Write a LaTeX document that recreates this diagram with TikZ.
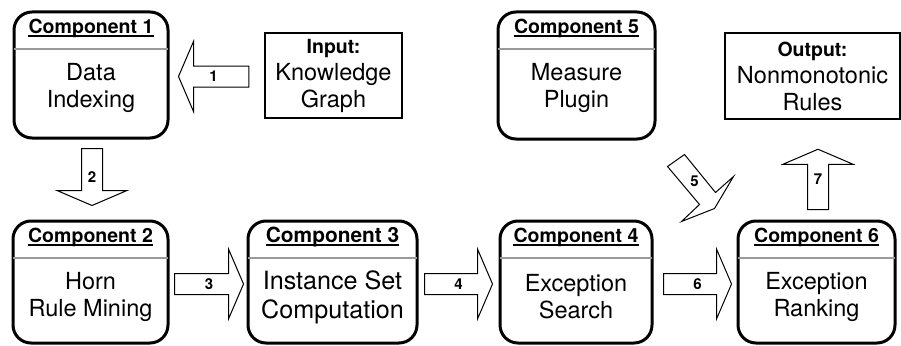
\documentclass[tikz,border=0pt]{standalone}
\usepackage{fontspec}
\setmainfont{TeX Gyre Heros}
\usetikzlibrary{calc}

\tikzset{
  compbox/.style={draw, line width=3pt, rounded corners=18pt, inner sep=0pt},
  iobox/.style={draw, line width=2.5pt, inner sep=0pt},
  sepline/.style={draw=black!40, line width=1.5pt},
  headtext/.style={font=\fontsize{19.5}{27}\selectfont\bfseries, inner sep=0pt, anchor=base},
  bodytext/.style={font=\fontsize{23.5}{27}\selectfont, align=center, inner sep=0pt},
  arrowbox/.style={draw, line width=1pt, line join=miter, fill=white},
  arrownum/.style={font=\fontsize{15}{15}\selectfont\bfseries, inner sep=0pt},
}

% rounded component box: [text scale] name, centre, width, height, number, body
\newcommand\component[7][1]{%
  \node[compbox, minimum width=#4, minimum height=#5] (#2) at #3 {};
  \draw[sepline] ($(#2.north west)+(1.5,38.5)$) -- ($(#2.north east)+(-1.5,38.5)$);
  \node[headtext, scale=#1] (#2-head) at ($(#2.north)+(0,23)$) {Component #6};
  \draw[line width=1.5pt] ($(#2-head.base west)+(0,2.3)$) -- ($(#2-head.base east)+(0,2.3)$);
  \node[bodytext, scale=#1] (#2-body) at ($(#2.north)+(0,77.5)$) {#7};
}

% outlined block arrow: name, from, to, label
\newcommand\blockarrow[4]{%
  \coordinate (#1-s) at #2;
  \coordinate (#1-t) at #3;
  \coordinate (#1-h) at ($(#1-t)!15pt!(#1-s)$);
  \draw[arrowbox] ($(#1-s)!10.5pt!90:(#1-t)$) -- ($(#1-h)!10.5pt!90:(#1-t)$)
    -- ($(#1-h)!35pt!90:(#1-t)$) -- (#1-t) -- ($(#1-h)!35pt!-90:(#1-t)$)
    -- ($(#1-h)!10.5pt!-90:(#1-t)$) -- ($(#1-s)!10.5pt!-90:(#1-t)$) -- cycle;
  \node[arrownum] (#1) at ($(#1-s)!.5!(#1-t)$) {#4};
}

\begin{document}
\begin{tikzpicture}[x=1pt, y=-1pt]
\useasboundingbox (0,0) rectangle (901,345);

% top row
\component{c1}{(91,75)}{154pt}{126pt}{1}{Data\\Indexing}
\component{c5}{(576.5,75.5)}{157pt}{127pt}{5}{Measure\\Plugin}
\node[iobox, minimum width=137pt, minimum height=85pt] (in) at (333.5,75.5) {};
\node[bodytext] (in-text) at (in) {\textbf{\fontsize{19.5}{27}\selectfont Input:}\\Knowledge\\Graph};
\node[iobox, minimum width=175pt, minimum height=86pt] (out) at (812.5,76) {};
\node[bodytext] (out-text) at (out) {\textbf{\fontsize{19.5}{27}\selectfont Output:}\\Nonmonotonic\\Rules};

% bottom row
\component{c2}{(90.5,282)}{155pt}{122pt}{2}{Horn\\Rule Mining}
\component[1.07]{c3}{(332.5,282)}{169pt}{122pt}{3}{Instance Set\\Computation}
\component{c4}{(576,282)}{152pt}{122pt}{4}{Exception\\Search}
\component{c6}{(816.5,282)}{157pt}{122pt}{6}{Exception\\Ranking}

% flow between the components
\blockarrow{a1}{($(in.west)+(-15,1)$)}{($(in.west -| c1.east)+(9,1)$)}{1}
\blockarrow{a2}{($(c1.south)+(1,9)$)}{($(c1.south |- c2.north)+(1,-14)$)}{2}
\blockarrow{a3}{($(c2.east)+(5,2)$)}{($(c2.east -| c3.west)+(-3,2)$)}{3}
\blockarrow{a4}{($(c3.east)+(6,2)$)}{($(c3.east -| c4.west)+(-6,2)$)}{4}
\blockarrow{a6}{($(c4.east)+(10,2)$)}{($(c4.east -| c6.west)+(-5,2)$)}{6}
\blockarrow{a7}{($(c6.north)+(1.5,-10)$)}{($(c6.north |- out.south)+(1.5,29)$)}{7}

% skewed arrow from the measure plugin
\begin{scope}[shift={(c5.south east)}]
  \draw[arrowbox] (11,26) -- (28,14) -- (59,52) -- (77,36) -- (58,68) -- (25,81) -- (43,64) -- cycle;
  \node[arrownum] (a5) at (38,41) {5};
\end{scope}
\end{tikzpicture}
\end{document}
